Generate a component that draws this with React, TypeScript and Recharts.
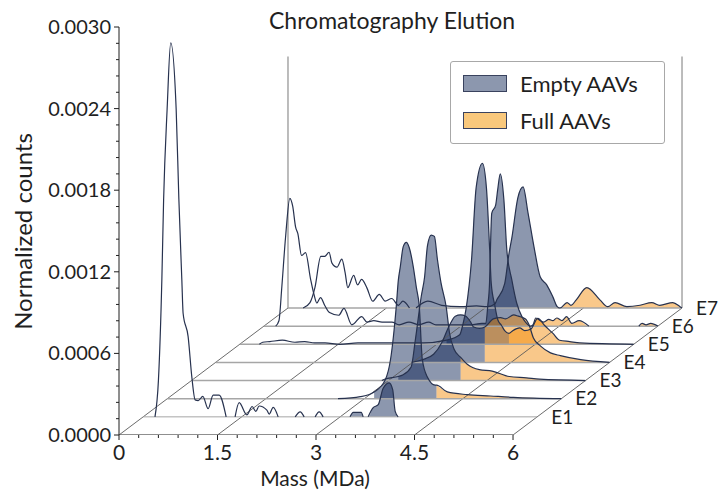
import React from "react";
import { ComposedChart, Area, Line, XAxis, YAxis, ReferenceLine, ReferenceDot, Legend } from "recharts";

const FONT = "Lato, sans-serif";
const INK = "#1f1f1f";
const W = 728, H = 493;

type P = [number, number];
const e1: P[] = [[0,0],[0.18,0],[0.233,0.00027],[0.285,0.00101],[0.312,0.0016],[0.365,0.00226],[0.42,0.00275],[0.503,0.00226],[0.544,0.0016],[0.589,0.00101],[0.609,0.00076],[0.685,0.00059],[0.742,0.00029],[0.792,0.000125],[0.838,0.00012],[0.909,0.00015],[0.99,0.00006],[1.066,0.00016],[1.157,0.00016],[1.264,0],[1.4,0],[1.462,0.000105],[1.579,0.000015],[1.66,0.000076],[1.716,0.00004],[1.766,0.00008],[1.884,0.00005],[1.919,0.00002],[1.98,0.00007],[2.056,0],[2.315,0],[2.391,0.000037],[2.452,0],[2.619,0],[2.68,0.000037],[2.741,0],[3.15,0],[3.2,0.000033],[3.274,0.000033],[3.32,0.000033],[3.35,0],[3.426,0],[3.5,0.000066],[3.58,0.00009],[3.655,0.00021],[3.746,0.00025],[3.8,0.0002],[3.838,0.00004],[3.883,0],[4.1,0],[6,0]];
const e2: P[] = [[0,0],[2.6,0],[2.94,0.000015],[3.15,0.00005],[3.32,0.00014],[3.4,0.00029],[3.487,0.00068],[3.518,0.00087],[3.548,0.00097],[3.594,0.00112],[3.64,0.00115],[3.685,0.00111],[3.746,0.00097],[3.792,0.00082],[3.837,0.00068],[3.883,0.00029],[3.96,0.00016],[4.08,0.0001],[4.1,0.0001],[4.264,0.00005],[4.568,0.00003],[4.92,0.00002],[5.27,0.00001],[6,0]];
const e3: P[] = [[0,0],[2.9,0],[2.94,0.00001],[3.15,0.00003],[3.213,0.00004],[3.346,0.0001],[3.41,0.0003],[3.5,0.00062],[3.55,0.00076],[3.594,0.00099],[3.65,0.00107],[3.7,0.00106],[3.746,0.00089],[3.8,0.00072],[3.88,0.00054],[3.93,0.00035],[4.0,0.00023],[4.1,0.00017],[4.2,0.00012],[4.385,0.00008],[4.58,0.00007],[4.84,0.00003],[5.1,0.00002],[5.3,0.00001],[6,0]];
const e4: P[] = [[0,0],[2.985,0],[3.15,0.00002],[3.32,0.00006],[3.45,0.00015],[3.53,0.00024],[3.58,0.00029],[3.65,0.00034],[3.73,0.00035],[3.81,0.00034],[3.88,0.0003],[3.93,0.00026],[4.02,0.00025],[4.1,0.00026],[4.23,0.00032],[4.34,0.00033],[4.416,0.00032],[4.54,0.00035],[4.61,0.00034],[4.72,0.00032],[4.77,0.00028],[4.84,0.00018],[4.95,0.00012],[5.1,0.00007],[5.25,0.00005],[5.56,0.00002],[6,0]];
const e5: P[] = [[0,0],[0.3,0],[0.35,0.000015],[0.46,0.00002],[0.65,0.00003],[0.84,0.000015],[0.99,0.00002],[1.14,0.00001],[1.3,0.00001],[1.52,0],[1.8,0.00001],[2.2,0.00001],[2.8,0.00001],[3.15,0.00003],[3.35,0.00007],[3.396,0.00014],[3.45,0.00027],[3.53,0.00062],[3.6,0.00115],[3.696,0.00133],[3.757,0.00115],[3.807,0.00069],[3.83,0.00045],[3.883,0.00029],[3.93,0.00018],[3.985,0.00014],[4.035,0.0001],[4.1,0.00008],[4.157,0.0001],[4.264,0.00012],[4.34,0.0001],[4.43,0.00011],[4.54,0.00019],[4.64,0.00014],[4.77,0.00008],[4.87,0.00003],[5.025,0.00002],[5.18,0.00001],[6,0]];
const e6: P[] = [[0,0],[0.18,0],[0.23,0.00004],[0.274,0.00029],[0.33,0.00065],[0.396,0.00094],[0.44,0.00088],[0.483,0.00073],[0.518,0.00068],[0.574,0.00052],[0.635,0.00054],[0.71,0.00035],[0.76,0.00024],[0.807,0.00017],[0.863,0.00021],[0.93,0.00015],[1.0,0.0001],[1.14,0.00008],[1.22,0.00013],[1.34,0.00001],[1.49,0.00007],[1.57,0.00003],[1.675,0.00004],[1.8,0.00003],[1.95,0.00003],[2.06,0.00001],[2.21,0.00003],[2.36,0.00001],[2.51,0.00003],[2.62,0.00001],[2.97,0.00001],[3.15,0.00001],[3.32,0.00002],[3.38,0.00002],[3.41,0.00015],[3.437,0.00032],[3.45,0.00056],[3.47,0.00083],[3.53,0.00089],[3.56,0.001],[3.6,0.00112],[3.655,0.00093],[3.7,0.00056],[3.776,0.00034],[3.85,0.00017],[3.93,0.00007],[3.985,0.00003],[4.06,0],[4.1,0.00001],[4.14,0.00006],[4.21,0.00004],[4.26,0.00003],[4.34,0.00005],[4.4,0.00004],[4.46,0.00006],[4.54,0.00004],[4.61,0.00007],[4.69,0.00002],[4.8,0.00004],[4.95,0],[5.71,0],[5.76,0.00002],[5.82,0.00001],[5.89,0.00002],[6,0]];
const e7: P[] = [[0,0],[0.23,0],[0.335,0.00004],[0.41,0.00015],[0.5,0.00038],[0.56,0.00038],[0.625,0.00041],[0.67,0.00033],[0.746,0.0003],[0.82,0.00036],[0.87,0.00026],[0.91,0.00015],[1.0,0.00024],[1.06,0.00017],[1.12,0.00021],[1.2,0.00015],[1.29,0.00005],[1.39,0.0001],[1.48,0.00005],[1.58,0.00007],[1.68,0.00002],[1.75,0.00005],[1.85,0],[1.95,0],[2.13,0.00005],[2.34,0.00002],[2.62,0.00001],[2.87,0.000015],[3.03,0.00001],[3.15,0.00003],[3.18,0.00006],[3.3,0.00018],[3.365,0.0004],[3.41,0.00052],[3.5,0.00081],[3.58,0.00089],[3.655,0.0007],[3.746,0.00045],[3.84,0.00023],[3.94,0.00017],[4.035,0.00008],[4.1,0.00001],[4.14,0],[4.25,0.00004],[4.31,0.00002],[4.39,0.00006],[4.55,0.00015],[4.75,0.00006],[4.87,0.00001],[4.98,0.00004],[5.16,0.00001],[5.36,0.00002],[5.54,0.00004],[5.66,0.00002],[5.86,0.00004],[5.97,0.00001],[6,0]];

const elutions = ["E1", "E2", "E3", "E4", "E5", "E6", "E7"];
const curves = [e1, e2, e3, e4, e5, e6, e7];
const EMPTY_FROM = 3.15, FULL_FROM = 4.1;
const xTicks = [0,0.3,0.6,0.9,1.2,1.5,1.8,2.1,2.4,2.7,3,3.3,3.6,3.9,4.2,4.5,4.8,5.1,5.4,5.7,6];
const xMajor = [0, 1.5, 3, 4.5, 6];
const xGuides = [0, 1.5, 3, 4.5, 6];
const yTicks = [0,0.00012,0.00024,0.00036,0.00048,0.0006,0.00072,0.00084,0.00096,0.00108,0.0012,0.00132,0.00144,0.00156,0.00168,0.0018,0.00192,0.00204,0.00216,0.00228,0.0024,0.00252,0.00264,0.00276,0.00288,0.003];
const yMajor = [0, 0.0006, 0.0012, 0.0018, 0.0024, 0.003];

const MAX_MASS = 8.573, MAX_COUNT = 0.003;
const STEP_MASS = 0.3676, STEP_COUNT = 0.0001334;
const WALL_COUNT = 0.00185;

const LINE = "#27324f", FLOOR = "#a6a6a6", GUIDE = "#5a5a5a";
const EMPTY_FILL = "#051d4f", FULL_FILL = "#f28700", FILL_ALPHA = 0.46;

const rows = (c: P[]) => c.map(([m, v]) => ({ m, v }));
// Runs at exactly zero lie on the grey floor, so the curve's stroke is broken there.
const strokeRows = (c: P[]) =>
  c.flatMap(([m, v], i) => {
    const next = c[i + 1];
    const here: { m: number; v: number | null }[] = [{ m, v }];
    if (next && v === 0 && next[1] === 0) here.push({ m: (m + next[0]) / 2, v: null });
    return here;
  });

function XTick({ x, y, payload }: any) {
  const major = xMajor.includes(payload.value);
  return (
    <g>
      <line x1={x} x2={x} y1={y} y2={y + (major ? 5 : 3)} stroke={INK} />
      {major && <text x={x} y={y + 25} textAnchor="middle" fontFamily={FONT} fontSize={21} fill={INK}>{payload.value}</text>}
    </g>
  );
}
function YTick({ x, y, payload }: any) {
  const major = yMajor.some((t) => Math.abs(t - payload.value) < 1e-7);
  return (
    <g>
      <line x1={x} x2={x - (major ? 5 : 3)} y1={y} y2={y} stroke={INK} />
      {major && <text x={x - 8} y={y + 7} textAnchor="end" fontFamily={FONT} fontSize={20} fill={INK}>{payload.value.toFixed(4)}</text>}
    </g>
  );
}
function Key() {
  const item = (label: string, color: string) => (
    <div style={{ display: "flex", alignItems: "center", height: 37 }}>
      <div style={{ width: 42, height: 15, background: color, border: "1.5px solid #39425e", marginRight: 13 }} />
      <span style={{ fontFamily: FONT, fontSize: 22, color: INK }}>{label}</span>
    </div>
  );
  return (
    <div style={{ boxSizing: "border-box", width: 215, height: 83, padding: "3px 12px", background: "#fff", border: "1.3px solid #a8a8a8", borderRadius: 3 }}>
      {item("Empty AAVs", "#8c97ae")}
      {item("Full AAVs", "#f9c87c")}
    </div>
  );
}

const axisLineRows = [{ m: 0, v: 0 }, { m: 6, v: 0 }];

export default function App() {
  const order = [6, 5, 4, 3, 2, 1, 0];
  return (
    <div style={{ position: "absolute", left: 0, top: 0, width: W, height: H, background: "#fff" }}>
      <ComposedChart width={W} height={H} margin={{ top: 27, right: 46, bottom: 18, left: 59 }}>
        <XAxis xAxisId="main" dataKey="m" type="number" domain={[0, MAX_MASS]} allowDataOverflow ticks={xTicks} interval={0} height={40} axisLine={false} tickLine={false} tickSize={0} tickMargin={0} tick={<XTick />} />
        <YAxis yAxisId="main" type="number" domain={[0, MAX_COUNT]} allowDataOverflow ticks={yTicks} interval={0} width={60} axisLine={{ stroke: INK }} tickLine={false} tickSize={0} tickMargin={0} tick={<YTick />} />
        {order.map((k) => (
          <XAxis key={"x" + k} xAxisId={"x" + k} dataKey="m" type="number" hide domain={[-(k + 1) * STEP_MASS, MAX_MASS - (k + 1) * STEP_MASS]} allowDataOverflow />
        ))}
        {order.map((k) => (
          <YAxis key={"y" + k} yAxisId={"y" + k} type="number" hide domain={[-(k + 1) * STEP_COUNT, MAX_COUNT - (k + 1) * STEP_COUNT]} allowDataOverflow />
        ))}

        <Line data={axisLineRows} dataKey="v" xAxisId="main" yAxisId="main" type="linear" stroke={INK} strokeWidth={1} dot={false} isAnimationActive={false} legendType="none" />
        {xGuides.map((m) => (
          <ReferenceLine key={"g" + m} xAxisId="main" yAxisId="main" stroke={GUIDE} strokeWidth={0.9} ifOverflow="visible"
            segment={[{ x: m, y: 0 }, { x: m + 7 * STEP_MASS, y: 7 * STEP_COUNT }]} />
        ))}
        <ReferenceLine xAxisId="x6" yAxisId="y6" stroke={FLOOR} strokeWidth={1.5} ifOverflow="visible" segment={[{ x: 0, y: 0 }, { x: 0, y: WALL_COUNT }]} />
        <ReferenceLine xAxisId="x6" yAxisId="y6" stroke={FLOOR} strokeWidth={1.5} ifOverflow="visible" segment={[{ x: 6, y: 0 }, { x: 6, y: WALL_COUNT }]} />
        {order.map((k) => (
          <ReferenceLine key={"f" + k} xAxisId={"x" + k} yAxisId={"y" + k} stroke={FLOOR} strokeWidth={k === 0 ? 1 : 1.5} ifOverflow="visible"
            segment={[{ x: 0, y: 0 }, { x: 6, y: 0 }]} />
        ))}
        {order.map((k) => (
          <ReferenceDot key={"l" + k} xAxisId={"x" + k} yAxisId={"y" + k} x={6} y={0} r={0} ifOverflow="visible" stroke="none" fill="none"
            label={{ value: elutions[k], position: "right", offset: 14, fontFamily: FONT, fontSize: 19, fill: INK }} />
        ))}

        {order.flatMap((k) => {
          const all = rows(curves[k]);
          const empty = all.filter((p) => p.m >= EMPTY_FROM && p.m <= FULL_FROM);
          const full = all.filter((p) => p.m >= FULL_FROM);
          return [
            <Area key={"e" + k} data={empty} dataKey="v" xAxisId={"x" + k} yAxisId={"y" + k} type="monotone" stroke="none" fill={EMPTY_FILL} fillOpacity={FILL_ALPHA} isAnimationActive={false} legendType="none" />,
            k > 0 ? <Area key={"o" + k} data={full} dataKey="v" xAxisId={"x" + k} yAxisId={"y" + k} type="monotone" stroke="none" fill={FULL_FILL} fillOpacity={FILL_ALPHA} isAnimationActive={false} legendType="none" /> : null,
            <Line key={"c" + k} data={strokeRows(curves[k])} dataKey="v" xAxisId={"x" + k} yAxisId={"y" + k} type="monotone" stroke={LINE} strokeWidth={1.2} dot={false} isAnimationActive={false} legendType="none" />,
          ];
        })}

        <text x={269} y={29} fontFamily={FONT} fontSize={23} fill={INK}>Chromatography Elution</text>
        <text x={315} y={486} textAnchor="middle" fontFamily={FONT} fontSize={21} fill={INK}>Mass (MDa)</text>
        <text transform="rotate(-90 32 231.5)" x={32} y={231.5} textAnchor="middle" fontFamily={FONT} fontSize={24} fill={INK}>Normalized counts</text>
        <Legend layout="horizontal" verticalAlign="middle" align="center" content={<Key />} wrapperStyle={{ position: "absolute", left: 450, top: 61, width: 215, height: 83, bottom: "auto", right: "auto" }} />
      </ComposedChart>
    </div>
  );
}
